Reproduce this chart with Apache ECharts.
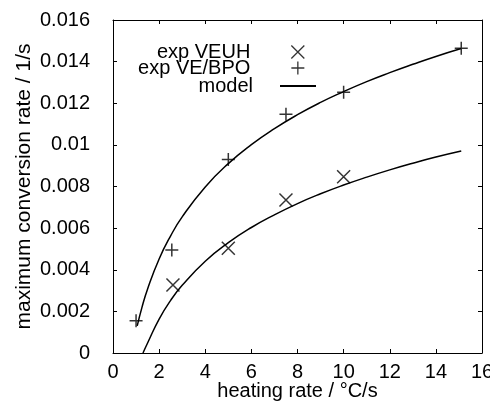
<!DOCTYPE html>
<html>
<head>
<meta charset="utf-8">
<script src="https://cdn.jsdelivr.net/npm/echarts@6/dist/echarts.min.js"></script>
<style>
  html, body { margin: 0; padding: 0; background: #fff; }
  #chart { width: 490px; height: 407px; }
</style>
</head>
<body>
<div id="chart"></div>
<script>
const rateVEUH = [2.6, 5.0, 7.5, 10.0]
const convVEUH = [0.00327, 0.00503, 0.00735, 0.00847]
const rateBPO = [1.0, 2.55, 5.0, 7.5, 10.0, 15.1]
const convBPO = [0.00155, 0.00495, 0.0093, 0.01147, 0.01253, 0.01464]

// model curves
const modelUpX = [1.05, 1.25, 1.5, 2, 2.5, 3, 4, 5, 6, 7, 8, 9, 10, 11, 12, 13, 14, 15.1]
const modelUpY = [0.0013, 0.00217, 0.00308, 0.00452, 0.00563, 0.00654, 0.00798, 0.0091, 0.01001, 0.01078, 0.01145, 0.01204, 0.01256, 0.01304, 0.01347, 0.01387, 0.01425, 0.01463]
const modelLowX = [1.3, 1.5, 2, 2.5, 3, 4, 5, 6, 7, 8, 9, 10, 11, 12, 13, 14, 15.1]
const modelLowY = [0.0, 0.00048, 0.00163, 0.00253, 0.00325, 0.00441, 0.0053, 0.00603, 0.00664, 0.00718, 0.00765, 0.00807, 0.00845, 0.0088, 0.00912, 0.00942, 0.00971]

const xTicks = [0, 16, 2]
const yTicks = [0, 0.016, 0.002]

const pairs = (xs, ys) => xs.map((x, i) => [x, ys[i]])

const font = "'Liberation Sans', Arial, sans-serif"
const crossPath = 'path://M0,0L10,10M10,0L0,10'
const plusPath = 'path://M5,0L5,10M0,5L10,5'

// fresh objects per axis, echarts does not like shared ones here
const tickStyle = () => ({ show: true, inside: true, length: 4, lineStyle: { color: '#000' } })
const lineStyle = () => ({ show: true, onZero: false, lineStyle: { color: '#000', width: 1 } })

const legendCommon = {
  orient: 'horizontal',
  align: 'right',
  itemWidth: 13,
  itemHeight: 13,
  itemGap: 0,
  padding: 0,
  textStyle: { fontFamily: font, fontSize: 20, color: '#000', lineHeight: 20, padding: [0, 36, 0, 0] },
}

const option = {
  backgroundColor: '#fff',
  animation: false,
  grid: { left: 113, top: 20, right: 8, bottom: 54, outerBoundsMode: 'none' },
  legend: [
    Object.assign({}, legendCommon, { right: 185, top: 42, data: ['exp VEUH'], itemStyle: { borderWidth: 1.3 } }),
    Object.assign({}, legendCommon, { right: 185, top: 58, data: ['exp VE/BPO'], itemStyle: { borderWidth: 1.3 } }),
    Object.assign({}, legendCommon, {
      right: 174, top: 76, itemWidth: 36, itemHeight: 2,
      textStyle: Object.assign({}, legendCommon.textStyle, { padding: [0, 22, 0, 0] }),
      data: [{ name: 'model', icon: 'rect' }],
    }),
  ],
  xAxis: [
    {
      type: 'value',
      min: xTicks[0], max: xTicks[1], interval: xTicks[2],
      position: 'bottom',
      axisLine: lineStyle(),
      axisTick: tickStyle(),
      splitLine: { show: false },
      name: 'heating rate / °C/s',
      nameLocation: 'middle',
      nameGap: 28,
      nameMoveOverlap: false,
      nameTextStyle: { fontFamily: font, fontSize: 20, color: '#000', verticalAlign: 'top' },
      axisLabel: { fontFamily: font, fontSize: 20, color: '#000', margin: 9 },
    },
    {
      type: 'value',
      min: xTicks[0], max: xTicks[1], interval: xTicks[2],
      position: 'top',
      axisLine: lineStyle(),
      axisTick: tickStyle(),
      splitLine: { show: false },
      axisLabel: { show: false },
    },
  ],
  yAxis: [
    {
      type: 'value',
      min: yTicks[0], max: yTicks[1], interval: yTicks[2],
      position: 'left',
      axisLine: lineStyle(),
      axisTick: tickStyle(),
      splitLine: { show: false },
      name: 'maximum conversion rate / 1/s',
      nameLocation: 'middle',
      nameGap: 78,
      nameMoveOverlap: false,
      nameTextStyle: { fontFamily: font, fontSize: 21, color: '#000' },
      axisLabel: { fontFamily: font, fontSize: 20, color: '#000', margin: 23 },
    },
    {
      type: 'value',
      min: yTicks[0], max: yTicks[1], interval: yTicks[2],
      position: 'right',
      axisLine: lineStyle(),
      axisTick: tickStyle(),
      splitLine: { show: false },
      axisLabel: { show: false },
    },
  ],
  series: [
    {
      name: 'exp VEUH',
      type: 'scatter',
      symbol: crossPath,
      symbolSize: 13,
      itemStyle: { color: 'transparent', borderColor: '#000', borderWidth: 1.5 },
      data: pairs(rateVEUH, convVEUH),
    },
    {
      name: 'exp VE/BPO',
      type: 'scatter',
      symbol: plusPath,
      symbolSize: 13,
      itemStyle: { color: 'transparent', borderColor: '#000', borderWidth: 1.5 },
      data: pairs(rateBPO, convBPO),
    },
    {
      name: 'model',
      type: 'line',
      smooth: true,
      symbol: 'none',
      lineStyle: { color: '#000', width: 1.5 },
      itemStyle: { color: '#000' },
      data: pairs(modelUpX, modelUpY),
    },
    {
      name: 'model',
      type: 'line',
      smooth: true,
      symbol: 'none',
      lineStyle: { color: '#000', width: 1.5 },
      itemStyle: { color: '#000' },
      data: pairs(modelLowX, modelLowY),
    },
  ],
}

const myChart = echarts.init(document.getElementById('chart'))
myChart.setOption(option)
window.addEventListener('resize', () => myChart.resize())
</script>
</body>
</html>
